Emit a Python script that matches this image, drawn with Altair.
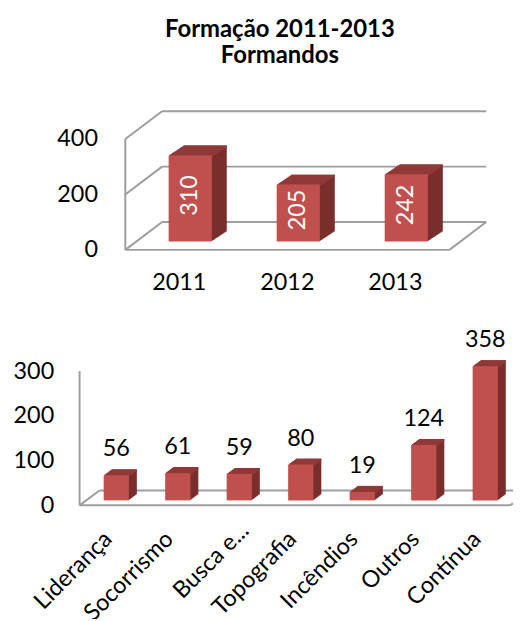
import altair as alt
import pandas as pd

years = ["2011", "2012", "2013"]
year_values = [310, 205, 242]
year_mids = [155, 102.5, 121]
year_ticks = [0, 200, 400]

courses = ["Liderança", "Socorrismo", "Busca e...", "Topografia", "Incêndios", "Outros", "Contínua"]
course_values = [56, 61, 59, 80, 19, 124, 358]
course_ticks = [0, 100, 200, 300]

FRONT = "#C0504D"
TOP = "#8F3A38"
SIDE = "#7A2F2D"
LINE = "#9E9E9E"
FONT = "Lato"
FS = 23.5


def frame(lines):
    out = []
    for x0, y0, x1, y1 in lines:
        out.append(
            alt.Chart(pd.DataFrame({"a": [0]})).mark_rule(color=LINE, strokeWidth=2).encode(
                x=alt.value(x0), y=alt.value(y0), x2=alt.value(x1), y2=alt.value(y1)
            )
        )
    return out


def bars3d(df, x, y, base_dx, base_dy, depth_x, depth_y):
    out = []
    n = max(depth_x, 1)
    for i in range(n, 0, -1):
        dx = base_dx + depth_x * i / n
        dy = base_dy + depth_y * i / n
        out.append(
            alt.Chart(df).mark_bar(color=SIDE, xOffset=dx, yOffset=-dy, y2Offset=-dy).encode(x=x, y=y, y2=alt.datum(0))
        )
    for i in range(n, 0, -1):
        dx = base_dx + depth_x * i / n
        dy = base_dy + depth_y * i / n
        out.append(
            alt.Chart(df).mark_bar(color=TOP, xOffset=dx, yOffset=-dy, y2Offset=-dy + 2).encode(
                x=x, y=y, y2=alt.Y2(y.shorthand)
            )
        )
    out.append(
        alt.Chart(df).mark_bar(color=FRONT, xOffset=base_dx, yOffset=-base_dy, y2Offset=-base_dy).encode(
            x=x, y=y, y2=alt.datum(0)
        )
    )
    return out


# ---- top chart
W = 433
H1 = 111.5
L1 = 46
R1 = 372
df1 = pd.DataFrame({"year": years, "value": year_values, "mid": year_mids})
x1 = alt.X(
    "year:N",
    sort=years,
    title=None,
    scale=alt.Scale(range=[L1, R1], paddingInner=0.6, paddingOuter=0.3),
    axis=alt.Axis(domain=False, ticks=False, labelAngle=0, labelFont=FONT, labelFontSize=FS,
                  labelColor="#000000", labelPadding=21),
)
axis1 = alt.Axis(values=year_ticks, domain=False, ticks=False, grid=False, labelFont=FONT, labelFontSize=FS,
                 labelColor="#000000", offset=-L1, labelPadding=28)
y1 = alt.Y("value:Q", title=None, scale=alt.Scale(domain=[0, 400]), axis=axis1)
dx1, dy1 = 37, 28
lines1 = [(L1, 0, L1, H1), (L1, H1, R1, H1), (R1, H1, R1 + dx1, H1 - dy1)]
for t in year_ticks:
    yy = H1 * (1 - t / 400)
    lines1.append((L1, yy, L1 + dx1, yy - dy1))
    lines1.append((L1 + dx1, yy - dy1, R1 + dx1, yy - dy1))

labels1 = alt.Chart(df1).mark_text(
    color="#FFFFFF", angle=270, font=FONT, fontSize=FS, xOffset=11, yOffset=-11.5
).encode(x=x1, y=alt.Y("mid:Q", scale=alt.Scale(domain=[0, 400]), axis=axis1, title=None), text="value:Q")

chart1 = alt.layer(
    *frame(lines1), *bars3d(df1, x1, y1, 11, 8.5, 15, 10), labels1
).properties(
    width=W,
    height=H1,
    title=alt.TitleParams(
        ["Formação 2011-2013", "Formandos"],
        font=FONT, fontSize=24, fontWeight="bold", color="#000000", dx=-15, lineHeight=27, offset=42,
    ),
)

# ---- bottom chart
H2 = 135
PAD2 = 30
df2 = pd.DataFrame({"course": courses, "value": course_values})
x2 = alt.X(
    "course:N",
    sort=courses,
    title=None,
    scale=alt.Scale(paddingInner=0.59, paddingOuter=0.295),
    axis=alt.Axis(domain=False, ticks=False, labelAngle=-45, labelAlign="right", labelBaseline="middle",
                  labelFont=FONT, labelFontSize=FS, labelColor="#000000", labelPadding=PAD2, labelLimit=200,
                  labelOverlap=False, labelOffset=-2,
                  labelExpr="datum.label == 'Busca e...' ? '' : datum.label"),
)
y2 = alt.Y(
    "value:Q",
    title=None,
    scale=alt.Scale(domain=[0, 300], clamp=True),
    axis=alt.Axis(values=course_ticks, domain=False, ticks=False, grid=False, labelFont=FONT, labelFontSize=FS,
                  labelColor="#000000", labelPadding=26),
)
dx2, dy2 = 20, 15
lines2 = [
    (0, 0, 0, H2),
    (0, H2, W, H2),
    (0, H2, dx2, H2 - dy2),
    (dx2, H2 - dy2, W + 3, H2 - dy2),
    (W, H2, W + 3, H2 - 2),
]
labels2 = alt.Chart(df2).mark_text(
    color="#000000", font=FONT, fontSize=FS, xOffset=6, dy=-31
).encode(x=x2, y=y2, text="value:Q")

# the clipped name sits further along its slant in the reference
busca = alt.Chart(df2[df2["course"] == "Busca e..."]).mark_text(
    color="#000000", font=FONT, fontSize=FS, angle=315, align="right", baseline="middle", xOffset=12
).encode(x=x2, text="course:N", y=alt.value(H2 + PAD2 - 8))

chart2 = alt.layer(*frame(lines2), *bars3d(df2, x2, y2, 6, 5, 8, 6), labels2, busca).properties(width=W, height=H2)

chart = (
    alt.vconcat(chart1, chart2, spacing=34.5)
    .properties(padding={"left": 5, "top": 8, "right": 0, "bottom": -8})
    .configure_view(stroke=None)
)
chart.save("out.html", embed_options={"renderer": "svg", "actions": False})
